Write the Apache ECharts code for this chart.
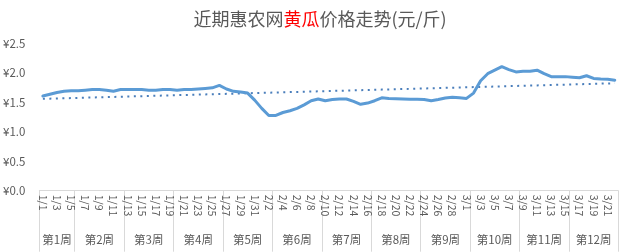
<!DOCTYPE html>
<html><head><meta charset="utf-8">
<script src="https://cdn.jsdelivr.net/npm/echarts@6/dist/echarts.min.js"></script>
<style>html,body{margin:0;padding:0;background:#fff}#c{width:640px;height:252px}</style>
</head><body><div id="c"></div>
<script>
var categories = ['1/1','1/2','1/3','1/4','1/5','1/6','1/7','1/8','1/9','1/10','1/11','1/12','1/13','1/14','1/15','1/16','1/17','1/18','1/19','1/20','1/21','1/22','1/23','1/24','1/25','1/26','1/27','1/28','1/29','1/30','1/31',
'2/1','2/2','2/3','2/4','2/5','2/6','2/7','2/8','2/9','2/10','2/11','2/12','2/13','2/14','2/15','2/16','2/17','2/18','2/19','2/20','2/21','2/22','2/23','2/24','2/25','2/26','2/27','2/28','2/29',
'3/1','3/2','3/3','3/4','3/5','3/6','3/7','3/8','3/9','3/10','3/11','3/12','3/13','3/14','3/15','3/16','3/17','3/18','3/19','3/20','3/21','3/22'];
var prices = [1.61,1.64,1.67,1.69,1.70,1.70,1.71,1.72,1.72,1.71,1.69,1.72,1.72,1.72,1.72,1.71,1.71,1.72,1.72,1.71,1.72,1.72,1.73,1.74,1.75,1.79,1.73,1.69,1.68,1.66,1.54,
1.40,1.28,1.28,1.33,1.36,1.40,1.46,1.53,1.56,1.53,1.55,1.56,1.56,1.52,1.47,1.49,1.53,1.58,1.57,1.565,1.56,1.555,1.555,1.55,1.53,1.55,1.575,1.59,1.58,
1.57,1.66,1.87,1.99,2.05,2.11,2.06,2.02,2.03,2.03,2.05,1.99,1.94,1.94,1.94,1.93,1.92,1.955,1.91,1.90,1.895,1.88];
var weekLabels = ['第1周','第2周','第3周','第4周','第5周','第6周','第7周','第8周','第9周','第10周','第11周','第12周'];
var weekDays = [5,7,7,7,7,7,7,7,7,7,7,7];
var yTicks = [0,0.5,1.0,1.5,2.0,2.5];

var weekStart = [], weekMid = {}, s = 0;
weekDays.forEach(function(d,i){ weekStart.push(s); weekMid[s + (d-1)/2] = weekLabels[i]; s += d; });
var startSet = {}; weekStart.forEach(function(v){ startSet[v]=true; });

// linear trend line (least squares), as Excel trendline
var n = prices.length, sx=0, sy=0, sxy=0, sxx=0;
prices.forEach(function(v,i){ sx+=i; sy+=v; sxy+=i*v; sxx+=i*i; });
var slope = (n*sxy - sx*sy)/(n*sxx - sx*sx), icpt = (sy - slope*sx)/n;
var trend = prices.map(function(v,i){ return +(icpt + slope*i).toFixed(4); });

var font = '"Noto Sans CJK SC","Microsoft YaHei",sans-serif';
var chart = echarts.init(document.getElementById('c'), null, {renderer:'canvas'});
chart.setOption({
  animation:false,
  title:{
    text:'{g|近期惠农网}{r|黄瓜}{g|价格走势(元/斤)}',
    left:'center', top:5,
    textStyle:{fontWeight:'normal',rich:{
      g:{fontSize:18,color:'#595959',fontFamily:font,fontWeight:'normal'},
      r:{fontSize:18,color:'#FF0000',fontFamily:font,fontWeight:'normal'}
    }}
  },
  grid:{left:38.3,right:21.7,top:43.7,bottom:61.3,containLabel:false},
  xAxis:[{
    type:'category', data:categories, boundaryGap:true,
    axisLine:{show:true,lineStyle:{color:'#D9D9D9',width:1}},
    axisTick:{show:true,length:61,interval:function(i){return !!startSet[i];},lineStyle:{color:'#D9D9D9',width:1}},
    axisLabel:{interval:1,rotate:-90,fontSize:10.5,color:'#595959',fontFamily:font,margin:4}
  },{
    type:'category', data:categories, boundaryGap:true, position:'bottom',
    axisLine:{show:false}, axisTick:{show:false},
    axisLabel:{interval:0,fontSize:11.5,color:'#595959',fontFamily:font,margin:43,
      formatter:function(v,i){return weekMid[i]||'';}}
  }],
  yAxis:{
    type:'value', min:yTicks[0], max:yTicks[yTicks.length-1], interval:0.5,
    axisLine:{show:false}, axisTick:{show:false}, splitLine:{show:false},
    axisLabel:{fontSize:11.5,color:'#595959',fontFamily:font,margin:14,
      formatter:function(v){return '¥'+v.toFixed(1);}}
  },
  series:[{
    type:'line', data:prices, showSymbol:false, symbol:'none',
    lineStyle:{color:'#5B9BD5',width:3,join:'round',cap:'round'}, z:3
  },{
    type:'line', data:trend, showSymbol:false, symbol:'none',
    lineStyle:{color:'#4A7EBB',width:2,type:[2,4.5],cap:'butt'}, z:2
  }]
});
</script></body></html>
